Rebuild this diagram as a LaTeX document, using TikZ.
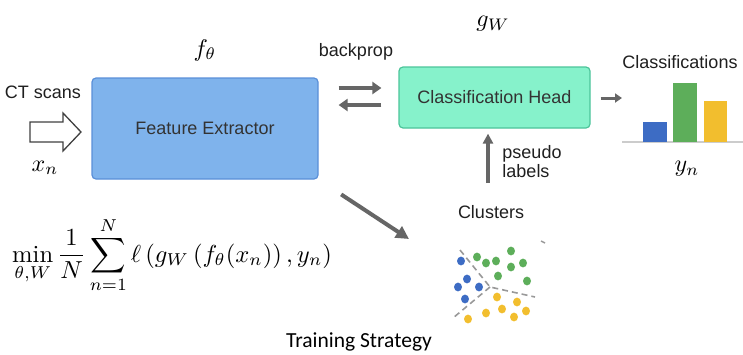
\documentclass[tikz,border=0pt]{standalone}
\usepackage{amsmath}
\usepackage{graphicx}
\usepackage{fontspec}
\usepackage{xcolor}
\usetikzlibrary{arrows.meta,positioning,calc}
\newfontfamily\arialf{Liberation Sans}
\newfontfamily\calibf{Carlito}
\newcommand{\bigmath}[1]{\scalebox{2.4}{$#1$}}
\definecolor{febl}{HTML}{7FB3EC}
\definecolor{febd}{HTML}{5A8FD8}
\definecolor{chgr}{HTML}{86F2CB}
\definecolor{chbd}{HTML}{4CC49A}
\definecolor{barbl}{HTML}{3D6CC4}
\definecolor{bargr}{HTML}{5DAE5A}
\definecolor{barye}{HTML}{F2BE2E}
\definecolor{arrgray}{HTML}{666666}
\tikzset{
  lbl/.style={font=\arialf\fontsize{18}{20}\selectfont, text=black!88, inner sep=0pt},
  mathlbl/.style={inner sep=0pt},
  blockbox/.style={draw, rounded corners=4pt, line width=1.2pt, inner sep=0pt, font=\arialf\fontsize{18}{20}\selectfont, text=black!80},
  arc/.style={-{Triangle[length=9pt,width=12pt]}, line width=3.5pt, draw=arrgray},
  bigarc/.style={-{Triangle[length=13pt,width=13pt]}, line width=4pt, draw=arrgray},
  cutline/.style={draw=gray!80, line width=1.6pt, dash pattern=on 6pt off 4pt}
}

\begin{document}
\begin{tikzpicture}[x=1pt, y=-1pt]
  \useasboundingbox (0,0) rectangle (743,354);

  \node[blockbox, fill=febl, draw=febd, minimum width=226pt, minimum height=101pt] (fe) at (205,128.5) {Feature Extractor};
  \node[blockbox, fill=chgr, draw=chbd, minimum width=191pt, minimum height=61pt] (ch) at (494.5,97.5) {Classification Head};

  \node[mathlbl] (ftheta) at (205,50) {\bigmath{f_\theta}};
  \node[mathlbl] (gw) at (493,24) {\bigmath{g_W}};
  \node[lbl] (ct) at (43,92) {CT scans};
  \draw[draw=black!75, line width=1.3pt, line join=miter, fill=white]
    (30,122) -- (63,122) -- (63,113) -- (81,132) -- (63,151) -- (63,142) -- (30,142) -- cycle;
  \node[mathlbl] (xn) at (45,168) {\bigmath{x_n}};

  \node[lbl] (bp) at (356,52) {backprop};
  \draw[arc, shorten <=20pt, shorten >=17pt] (fe.east |- 0,88) -- (ch.west |- 0,88);
  \draw[arc, shorten <=17pt, shorten >=20pt] (ch.west |- 0,105) -- (fe.east |- 0,105);

  \coordinate (chart) at (622,98);
  \draw[-{Triangle[length=7pt,width=9pt]}, line width=3pt, draw=arrgray, shorten <=10pt] (ch.east |- chart) -- (chart);
  \node[lbl] (cls) at (680,62) {Classifications};
  \draw[gray!40, line width=1.2pt] (622,142) -- (743,142);
  \fill[barbl] (643,142) rectangle (667,122);
  \fill[bargr] (673,142) rectangle (697,83);
  \fill[barye] (704,142) rectangle (727,101);
  \node[mathlbl] (yn) at (687,169) {\bigmath{y_n}};

  \node[lbl] (clu) at (491,212) {Clusters};
  \coordinate (pl) at (488,183);
  \draw[-{Triangle[length=10pt,width=10pt]}, line width=3.5pt, draw=arrgray, shorten >=5pt] (pl) -- (ch.south -| pl);
  \node[lbl, align=left, font=\arialf\fontsize{18}{19}\selectfont] (psl) at (532,162) {pseudo\\labels};

  \coordinate (cl) at (409,239);
  \draw[bigarc, shorten <=27pt] (fe.south east) -- (cl);

  % cluster scatter
  \draw[cutline] (460,250) -- (490,287) -- (535,297);
  \draw[cutline] (490,287) -- (453,318);
  \draw[gray!80, line width=1.4pt] (541,241) -- (545,243);
  \foreach \p in {(461,261),(467,279),(458,287),(479,287),(465,299)}
    \fill[barbl] \p ellipse (4pt and 4.4pt);
  \foreach \p in {(477,257),(486,263),(496,261),(511,251),(511,267),(523,263),(498,276),(527,281)}
    \fill[bargr] \p ellipse (4pt and 4.4pt);
  \foreach \p in {(497,297),(517,302),(502,309),(486,313),(526,311),(514,317),(468,319)}
    \fill[barye] \p ellipse (4pt and 4.4pt);

  \node[anchor=base west, inner sep=0pt] (loss) at (12,262)
    {\scalebox{2.46}{$\displaystyle \min_{\theta,W}\frac{1}{N}\sum_{n=1}^{N}\ell\left(g_W\left(f_\theta(x_n)\right),y_n\right)$}};

  \node[anchor=base, inner sep=0pt, font=\calibf\fontsize{21.5}{24}\selectfont] (cap) at (359,347) {Training Strategy};
\end{tikzpicture}
\end{document}
